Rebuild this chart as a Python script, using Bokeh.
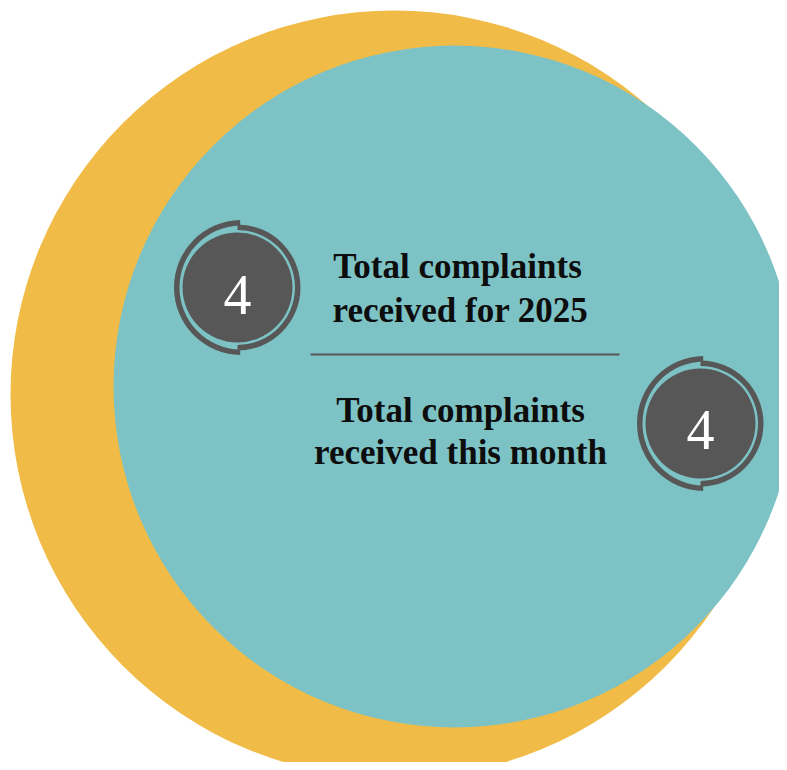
import math
from bokeh.plotting import figure
from bokeh.models import Range1d, ColumnDataSource
from bokeh.core.properties import value
from bokeh.embed import file_html
from bokeh.resources import INLINE

# ---- data ----
label_line1 = ["Total complaints", "Total complaints"]
label_line2 = ["received for 2025", "received this month"]
counts = [4, 4]

# ---- styles ----
YELLOW = "#F0BC47"
TEAL = "#7DC3C5"
DARK = "#575757"
TEXT = "#0d0d0d"

W, H = 779, 762


def Y(ys):
    return H - ys


p = figure(width=W, height=H, output_backend="svg", toolbar_location=None,
           x_range=Range1d(0, W), y_range=Range1d(0, H),
           min_border=0)
p.axis.visible = False
p.grid.visible = False
p.outline_line_color = None
p.background_fill_color = "white"
p.border_fill_color = "white"

# big background circles
p.circle(x=[394], y=[Y(394)], radius=384, fill_color=YELLOW, line_color=None)
p.circle(x=[454], y=[Y(386)], radius=341, fill_color=TEAL, line_color=None)

# badges
badge_cx = [237, 700]
badge_cy = [287, 423]
bx = badge_cx
by = [Y(v) for v in badge_cy]

# left outer arc (slightly offset to the right)
p.annular_wedge(x=[v + 4 for v in bx], y=by, inner_radius=62, outer_radius=67.5,
                start_angle=math.pi / 2 + 0.02, end_angle=3 * math.pi / 2 - 0.02,
                fill_color=DARK, line_color=None)
# right ring
p.annular_wedge(x=bx, y=by, inner_radius=57.5, outer_radius=63,
                start_angle=-math.pi / 2, end_angle=math.pi / 2,
                fill_color=DARK, line_color=None)
# dark disk
p.circle(x=bx, y=by, radius=55, fill_color=DARK, line_color=None)

# numbers (baseline compensation for svg text)
NUM_SIZE = 56
num_base = [315, 450]
num_src = ColumnDataSource(dict(x=[237, 700],
                                y=[Y(b) + 0.37 * NUM_SIZE for b in num_base],
                                t=[str(c) for c in counts]))
p.text(x="x", y="y", text="t", source=num_src, text_color="white",
       text_font=value("Liberation Serif"), text_font_size=f"{NUM_SIZE}px",
       text_align="center", text_baseline="alphabetic")

# labels
LAB_SIZE = 35
l1_base = [278, 422]
l2_base = [322, 464]
src1 = ColumnDataSource(dict(x=[457, 460],
                             y=[Y(b) + 0.35 * LAB_SIZE for b in l1_base],
                             t=label_line1))
src2 = ColumnDataSource(dict(x=[460, 460],
                             y=[Y(b) + 0.35 * LAB_SIZE for b in l2_base],
                             t=label_line2))
for s in (src1, src2):
    p.text(x="x", y="y", text="t", source=s, text_color=TEXT,
           text_font=value("Liberation Serif"), text_font_style="bold",
           text_font_size=f"{LAB_SIZE}px", text_align="center",
           text_baseline="alphabetic")

# divider
p.line(x=[310, 619], y=[Y(354), Y(354)], line_color=DARK, line_width=2)

html = file_html(p, INLINE)
open("out.html", "w").write(html)
